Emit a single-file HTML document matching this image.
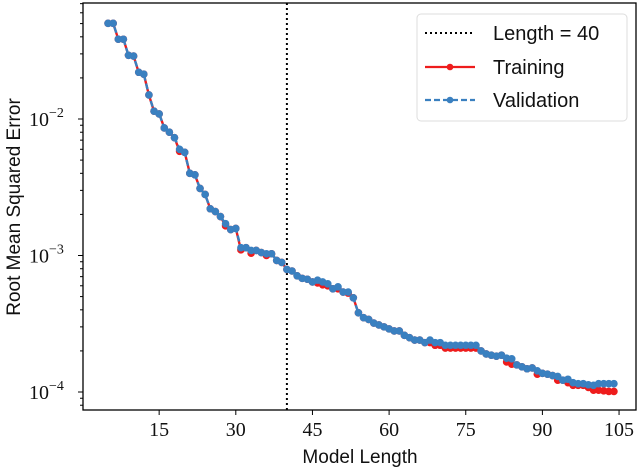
<!DOCTYPE html>
<html><head><meta charset="utf-8"><style>
body{margin:0;background:#fff}
svg{display:block}
.tk{font-family:"Liberation Serif",serif;font-size:20px;fill:#111}
.lb{font-family:"Liberation Sans",sans-serif;font-size:19px;fill:#111}
</style></head><body>
<svg id="chart" width="640" height="469" viewBox="0 0 640 469" xmlns="http://www.w3.org/2000/svg">
<rect x="0" y="0" width="640" height="469" fill="#fff"/>
<g id="marks"></g>
<g id="axes"></g>
<text class="lb" x="360" y="463" text-anchor="middle">Model Length</text>
<text class="lb" transform="translate(20,207) rotate(-90)" text-anchor="middle">Root Mean Squared Error</text>
<g>
<rect x="417" y="14" width="210" height="107" rx="4" fill="#fff" stroke="#ddd" stroke-width="1"/>
<line x1="425" x2="475" y1="33" y2="33" stroke="#000" stroke-width="2" stroke-dasharray="2,3"/>
<text x="493" y="40" font-family="Liberation Sans, sans-serif" font-size="20" fill="#111">Length = 40</text>
<line x1="425" x2="475" y1="67" y2="67" stroke="#ee1c1c" stroke-width="2.2"/>
<circle cx="450" cy="67" r="3.3" fill="#ee1c1c"/>
<text x="493" y="74" font-family="Liberation Sans, sans-serif" font-size="20" fill="#111">Training</text>
<line x1="425" x2="475" y1="100" y2="100" stroke="#3a80c0" stroke-width="2.2" stroke-dasharray="6,3"/>
<circle cx="450" cy="100" r="3.3" fill="#3a80c0"/>
<text x="493" y="107" font-family="Liberation Sans, sans-serif" font-size="20" fill="#111">Validation</text>
</g>
</svg>
<script>
const lengths = [];
for (let i = 5; i <= 104; i++) lengths.push(i);
const training = [.0502,.0502,.0384,.0384,.0293,.0289,.0220,.0213,.0150,.0114,.0109,.0086,.0080,.0073,.0058,.0057,.0040,.0039,.0031,.0028,.0022,.0021,.00193,.00165,.00155,.00158,.00110,.00114,.00104,.00109,.00105,.00100,.00103,.00092,.00089,.00079,.00077,.00071,.00068,.00067,.00064,.00063,.00061,.00060,.00057,.00057,.00054,.00053,.00049,.00038,.00035,.00034,.00032,.00031,.00030,.00029,.00028,.00028,.00026,.00025,.00024,.00024,.00023,.00023,.00022,.00022,.00021,.00021,.00021,.00021,.00021,.00021,.00021,.00020,.00019,.000186,.000183,.000186,.000166,.000160,.000158,.000153,.000148,.000150,.000135,.000137,.000135,.000132,.000122,.000122,.000117,.000112,.000112,.000112,.000108,.000103,.000103,.000102,.000101,.000101];
const validation = [.0502,.0502,.0384,.0384,.0293,.0289,.0220,.0213,.0150,.0114,.0109,.0086,.0080,.0073,.0060,.0057,.0040,.0039,.0031,.0028,.0022,.0021,.00193,.00171,.00155,.00158,.00114,.00114,.00109,.00109,.00105,.00103,.00103,.00092,.00089,.00079,.00077,.00071,.00068,.00067,.00064,.00066,.00064,.00062,.00057,.00059,.00054,.00054,.00049,.00038,.00035,.00034,.00032,.00031,.00030,.00029,.00028,.00028,.00026,.00025,.00024,.00024,.00023,.00024,.00023,.00023,.00022,.00022,.00022,.00022,.00022,.00022,.00022,.00020,.00019,.000186,.000183,.000186,.000177,.000175,.000158,.000153,.000148,.000150,.000143,.000137,.000135,.000132,.000130,.000122,.000124,.000117,.000115,.000115,.000113,.000112,.000115,.000115,.000115,.000115];
const xTicks = [15,30,45,60,75,90,105];
const yTicks = [-2,-3,-4];
const cutoff = [40];

const L=83,R=636,T=3,B=410;
const xs = v => 82.5 + v*5.11;
const ys = v => 119 - (Math.log10(v)+2)*136.5;
const NS="http://www.w3.org/2000/svg";
const marks=document.getElementById('marks'), axes=document.getElementById('axes');
function mk(tag,attrs,parent){const e=document.createElementNS(NS,tag);for(const k in attrs)e.setAttribute(k,attrs[k]);parent.appendChild(e);return e;}

const vl=mk('line',{x1:xs(cutoff[0]),x2:xs(cutoff[0]),y1:T,y2:B,stroke:'#000','stroke-width':2,'stroke-dasharray':'2,3'},marks);



function series(vals,color,dash,name){
  const g=mk('g',{},marks);
  
  
  const pts=vals.map((v,i)=>xs(lengths[i]).toFixed(1)+','+ys(v).toFixed(1)).join(' ');
  const pl=mk('polyline',{points:pts,fill:'none',stroke:color,'stroke-width':2.4,'stroke-dasharray':dash},g);
  
  
  vals.forEach((v,i)=>{
    const c=mk('circle',{cx:xs(lengths[i]),cy:ys(v),r:3.3,fill:color,stroke:color,'stroke-width':1},g);
    
    
  });
}
series(training,'#ee1c1c','none','training');
series(validation,'#3a80c0','6,3','validation');

const fr=mk('rect',{x:L,y:T,width:R-L,height:B-T,fill:'none',stroke:'#000','stroke-width':1.3},axes);



xTicks.forEach(t=>{
  const x=xs(t);
  const tl=mk('line',{x1:x,x2:x,y1:B,y2:B+5,stroke:'#000','stroke-width':1},axes);
  
  
  const tx=mk('text',{x:x,y:B+26,'text-anchor':'middle',class:'tk'},axes);
  tx.textContent=t;
  
  
});
for(let d=-5;d<=-1;d++){
  for(let m=1;m<10;m++){
    const v=m*Math.pow(10,d), y=ys(v);
    if(y<T||y>B)continue;
    const ln=mk('line',{x1:L-(m==1?5:3),x2:L,y1:y,y2:y,stroke:'#000','stroke-width':1},axes);
    
    
  }
}
yTicks.forEach(e=>{
  const y=ys(Math.pow(10,e));
  const tx=mk('text',{x:29,y:y+7,class:'tk'},axes);
  
  
  tx.textContent='10';
  const s=mk('tspan',{dy:-9,'font-size':14},tx);
  s.textContent='\u2212'+(-e);
});
</script>
</body></html>
